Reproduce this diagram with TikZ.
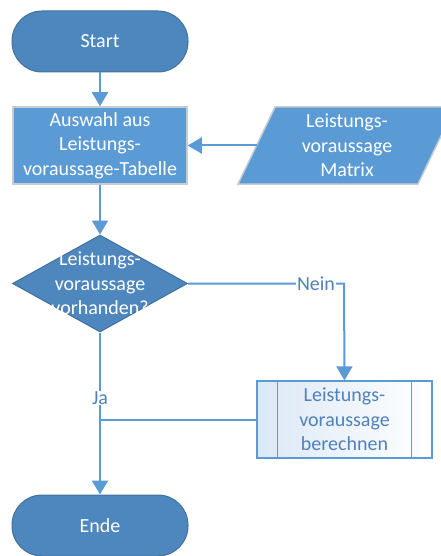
\documentclass[tikz,border=0pt]{standalone}
\usepackage{fontspec}
\setmainfont{Carlito}
\usetikzlibrary{shapes.geometric,arrows.meta,calc}
\definecolor{termfill}{HTML}{4E87BE}
\definecolor{termline}{HTML}{41719C}
\definecolor{procfill}{HTML}{5B9BD5}
\definecolor{procline}{HTML}{C5CCD4}
\definecolor{flow}{HTML}{5B9BD5}
\definecolor{subtext}{HTML}{4F81BD}
\definecolor{subfill}{HTML}{DCE8F5}
\newcommand{\flowfont}{\fontsize{20}{24.5}\selectfont}
\tikzset{
  every node/.style={font=\flowfont, align=center},
  terminal/.style={rectangle, rounded corners=30pt, minimum width=176pt, minimum height=61pt,
    fill=termfill, draw=termline, line width=1pt, text=white},
  procbox/.style={rectangle, minimum width=174pt, minimum height=77pt,
    fill=procfill, draw=procline, line width=1.5pt, text=white},
  decbox/.style={diamond, minimum width=175pt, minimum height=97pt, inner sep=0pt,
    fill=termfill, draw=termline, line width=1pt},
  subbox/.style={rectangle, minimum width=175pt, minimum height=77pt,
    left color=subfill, right color=white, draw=flow, line width=1.2pt, text=subtext},
  conn/.style={draw=flow, line width=2pt},
  arr/.style={conn, -{Triangle[width=16pt,length=14pt]}},
  flowlabel/.style={fill=white, text=subtext, inner sep=1pt}
}
\begin{document}
\begin{tikzpicture}[x=1pt,y=-1pt]
  \useasboundingbox (0,0) rectangle (441,556);
  \clip (0,0) rectangle (441,556);

  % nodes
  \node[terminal] (start) at (100,41.5) {Start};
  \node[procbox] (proc) at (100,145.5) {Auswahl aus\\Leistungs-\\voraussage-Tabelle};

  % data input (parallelogram)
  \fill[procfill] (275,107) -- (455,107) -- (418,184) -- (238,184) -- cycle;
  \draw[procline, line width=1.5pt] (275,107) -- (455,107) -- (418,184) -- (238,184) -- cycle;
  \node[text=white] (mat) at (347,145.5) {Leistungs-\\voraussage\\Matrix};
  \coordinate (matin) at (256.5,145.5);

  \node[decbox, label={[text=white, font=\flowfont, align=center]center:Leistungs-\\voraussage\\vorhanden?}] (dec) at (100,283.5) {};

  \node[subbox] (sub) at (344.5,419.5) {Leistungs-\\voraussage\\berechnen};
  \draw[flow, line width=1.2pt] ($(sub.north west)+(21,0)$) -- ($(sub.south west)+(21,0)$);
  \draw[flow, line width=1.2pt] ($(sub.north east)+(-21,0)$) -- ($(sub.south east)+(-21,0)$);

  \node[terminal] (ende) at (100,525.5) {Ende};

  % connectors
  \draw[arr] (start.south) -- (proc.north);
  \draw[arr] (matin) -- (proc.east);
  \draw[arr] (proc.south) -- (dec.north);
  \coordinate (neinc) at (344,283.5);
  \draw[arr] (dec.east) -- (neinc) -- (sub.north);
  \node[flowlabel] (nein) at (316,283.5) {Nein};
  \draw[arr] (dec.south) -- (ende.north);
  \node[flowlabel] (ja) at (100,398) {Ja};
  \draw[conn] (sub.west) -- (sub.west -| dec.south);
\end{tikzpicture}
\end{document}
